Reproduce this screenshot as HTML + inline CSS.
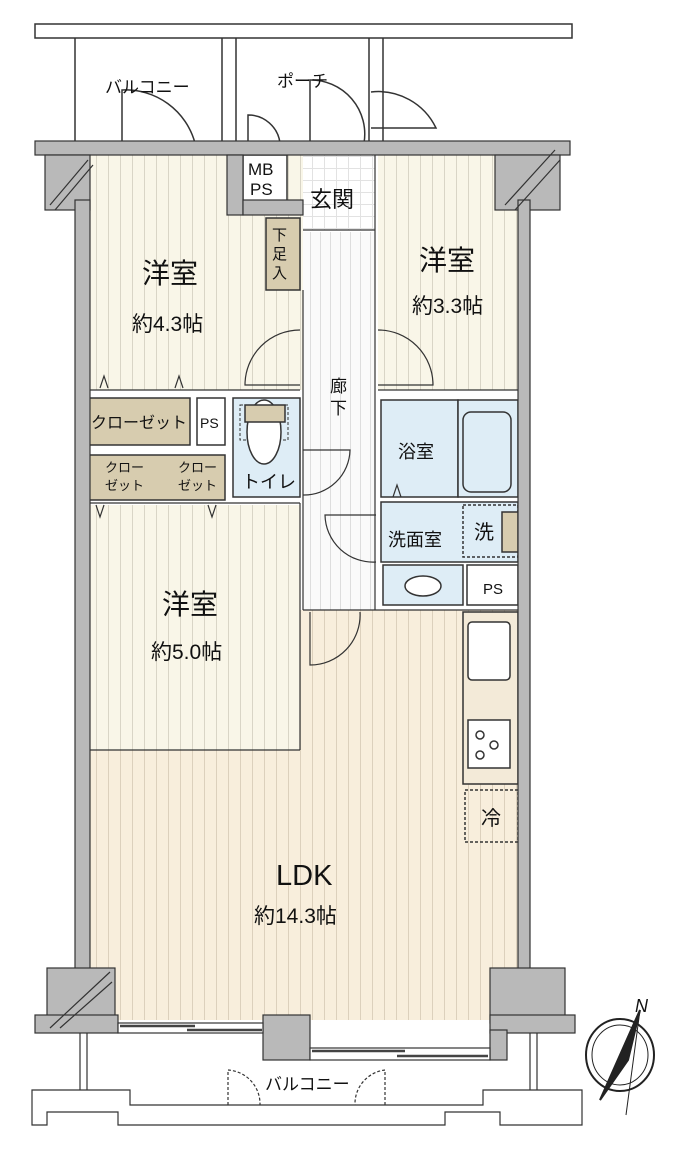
<!DOCTYPE html>
<html><head><meta charset="utf-8"><style>
html,body{margin:0;padding:0;background:#fff;}
svg{display:block;}
text{font-family:"Liberation Sans","Noto Sans CJK JP",sans-serif;fill:#111;}
</style></head><body>
<svg width="683" height="1163" viewBox="0 0 683 1163" xmlns="http://www.w3.org/2000/svg">
<defs>
<pattern id="st" width="12" height="10" patternUnits="userSpaceOnUse"><rect width="12" height="10" fill="#f9f6e8"/><line x1="0.5" y1="0" x2="0.5" y2="10" stroke="#d9d5c6" stroke-width="1"/></pattern>
<pattern id="st2" width="12" height="10" patternUnits="userSpaceOnUse"><rect width="12" height="10" fill="#f8eedc"/><line x1="0.5" y1="0" x2="0.5" y2="10" stroke="#dcd0bc" stroke-width="1"/></pattern>
<pattern id="hall" width="10" height="10" patternUnits="userSpaceOnUse"><rect width="10" height="10" fill="#fafafa"/><line x1="0.5" y1="0" x2="0.5" y2="10" stroke="#ddd" stroke-width="1"/></pattern>
<pattern id="tile" width="12" height="12" patternUnits="userSpaceOnUse"><rect width="12" height="12" fill="#fff"/><path d="M0 .5H12M.5 0V12" stroke="#e2e2e2"/></pattern>
</defs>
<g stroke="#333" stroke-width="1.5" fill="none">
<rect x="35" y="24" width="537" height="14" fill="#fff"/>
<line x1="75" y1="38" x2="75" y2="141"/><line x1="222" y1="38" x2="222" y2="141"/><line x1="236" y1="38" x2="236" y2="141"/><line x1="369" y1="38" x2="369" y2="141"/><line x1="383" y1="38" x2="383" y2="141"/>
<path d="M122 143V90A72 72 0 0 1 195 143"/><path d="M248 143V115A32 32 0 0 1 280 143"/>
<path d="M310 143V80A54 54 0 0 1 364 143"/><path d="M371 92A64 64 0 0 1 436 128H371"/>
</g>
<rect x="90" y="155" width="520" height="865" fill="#fff"/>
<rect x="90" y="155" width="213" height="235" fill="url(#st)"/>
<rect x="378" y="155" width="140" height="235" fill="url(#st)"/>
<rect x="303" y="155" width="72" height="75" fill="url(#tile)"/>
<rect x="303" y="232" width="72" height="378" fill="url(#hall)"/>
<rect x="90" y="610" width="428" height="410" fill="url(#st2)"/>
<rect x="90" y="505" width="210" height="245" fill="url(#st)"/>
<g stroke="#333" stroke-width="1.5">
<rect x="266" y="218" width="34" height="72" fill="#d7ccaf"/>
<rect x="243" y="155" width="44" height="46" fill="#fff"/>
<rect x="88" y="398" width="102" height="47" fill="#d7ccaf"/>
<rect x="197" y="398" width="28" height="47" fill="#fff"/>
<rect x="233" y="398" width="67" height="99" fill="#deedf6"/>
<rect x="88" y="455" width="137" height="45" fill="#d7ccaf"/>
<rect x="381" y="400" width="77" height="97" fill="#deedf6"/>
<rect x="458" y="400" width="60" height="97" fill="#deedf6"/>
<rect x="381" y="502" width="137" height="60" fill="#deedf6"/>
<rect x="383" y="565" width="80" height="40" fill="#deedf6"/>
<rect x="467" y="565" width="51" height="40" fill="#fff"/>
<rect x="463" y="612" width="55" height="172" fill="#f3ead8"/>
<rect x="468" y="622" width="42" height="58" rx="4" fill="#fff"/>
<rect x="468" y="720" width="42" height="48" fill="#fff"/>
<rect x="463" y="505" width="55" height="52" fill="none" stroke-dasharray="3 2"/>
<rect x="502" y="512" width="16" height="40" fill="#d7ccaf"/>
<rect x="465" y="790" width="53" height="52" fill="none" stroke-dasharray="3 2"/>
<rect x="463" y="412" width="48" height="80" rx="8" fill="#deedf6"/>
<ellipse cx="423" cy="586" rx="18" ry="10" fill="#fff"/>
<rect x="240" y="405" width="48" height="35" fill="none" stroke-dasharray="3 2" stroke-width="1"/>
<ellipse cx="264" cy="432" rx="17" ry="32" fill="#fff"/>
<rect x="245" y="405" width="40" height="17" fill="#d7ccaf"/>
<circle cx="480" cy="735" r="4" fill="#fff"/><circle cx="480" cy="755" r="4" fill="#fff"/><circle cx="494" cy="745" r="4" fill="#fff"/>
</g>
<g stroke="#333" stroke-width="1.2" fill="none">
<line x1="303" y1="230" x2="375" y2="230"/>
<line x1="303" y1="290" x2="303" y2="610"/><line x1="375" y1="155" x2="375" y2="610"/>
<line x1="90" y1="390" x2="300" y2="390"/><line x1="378" y1="390" x2="518" y2="390"/>
<line x1="90" y1="503" x2="300" y2="503"/><line x1="300" y1="503" x2="300" y2="750"/>
<line x1="90" y1="750" x2="300" y2="750"/>
<line x1="303" y1="610" x2="518" y2="610"/>
<path d="M300 330A55 55 0 0 0 245 385H300"/>
<path d="M378 330A55 55 0 0 1 433 385H378"/>
<path d="M303 450H350A46 46 0 0 1 303 495"/>
<path d="M376 515H325A48 48 0 0 0 376 562"/>
<path d="M310 612V665A50 50 0 0 0 360 612"/>
<path d="M100 388l4-12 4 12M175 388l4-12 4 12M96 505l4 12 4-12M208 505l4 12 4-12M393 497l4-12 4 12"/>
</g>
<g fill="#b9b9b9" stroke="#333" stroke-width="1.2">
<rect x="35" y="141" width="535" height="14"/>
<rect x="45" y="155" width="45" height="55"/><rect x="75" y="200" width="15" height="800"/>
<rect x="495" y="155" width="65" height="55"/><rect x="518" y="200" width="12" height="800"/>
<rect x="227" y="155" width="16" height="60"/><rect x="243" y="200" width="60" height="15"/>
<rect x="47" y="968" width="68" height="55"/><rect x="35" y="1015" width="83" height="18"/>
<rect x="490" y="968" width="75" height="55"/><rect x="490" y="1015" width="85" height="18"/>
<rect x="263" y="1015" width="47" height="45"/><rect x="490" y="1030" width="17" height="30"/>
</g>
<g stroke="#333" stroke-width="1.2" fill="none">
<rect x="118" y="1023" width="145" height="10" fill="#fff"/>
<rect x="310" y="1048" width="180" height="12" fill="#fff"/>
<path d="M120 1026H195M187 1030H262M312 1051H405M397 1056H488" stroke="#444" stroke-width="2.5"/>
<path d="M50 205L88 160M55 210L93 165M505 205L555 150M515 210L560 160M50 1028L110 972M60 1028L112 982"/>
<path d="M80 1033V1090M87 1033V1090M530 1033V1090M537 1033V1090"/>
<path d="M32 1090H130V1105H483V1090H582V1125H500V1112H445V1125H118V1112H47V1125H32Z"/>
<path d="M228 1105V1070A34 34 0 0 1 260 1105M385 1105V1070A34 34 0 0 0 355 1105" stroke-dasharray="3 2"/>
</g>
<g stroke="#222" stroke-width="2" fill="none">
<ellipse cx="620" cy="1055" rx="34" ry="36"/><ellipse cx="620" cy="1055" rx="28" ry="30" stroke-width="1"/>
<path d="M640 1010L600 1100L628 1060Z" fill="#222"/><path d="M640 1010L626 1115" stroke-width="1"/>
</g>
<text x="635" y="1012" font-size="18" font-style="italic" font-family="Liberation Serif,serif">N</text>
<g font-size="17">
<text x="105" y="93">バルコニー</text><text x="277" y="87">ポーチ</text>
<text x="265" y="1090">バルコニー</text>
</g>
<text x="248" y="175" font-size="17">MB</text><text x="250" y="195" font-size="17">PS</text>
<text x="310" y="207" font-size="22">玄関</text>
<text x="272" y="240" font-size="15">下</text><text x="272" y="259" font-size="15">足</text><text x="272" y="278" font-size="15">入</text>
<g font-size="28"><text x="142" y="283">洋室</text><text x="419" y="270">洋室</text><text x="162" y="614">洋室</text></g>
<g font-size="21"><text x="132" y="331">約4.3帖</text><text x="412" y="313">約3.3帖</text><text x="151" y="659">約5.0帖</text><text x="254" y="923">約14.3帖</text></g>
<text x="276" y="885" font-size="29">LDK</text>
<text x="330" y="392" font-size="17">廊</text><text x="330" y="414" font-size="17">下</text>
<text x="91" y="428" font-size="16">クローゼット</text><text x="200" y="428" font-size="14">PS</text>
<text x="105" y="472" font-size="13">クロー</text><text x="105" y="490" font-size="13">ゼット</text>
<text x="178" y="472" font-size="13">クロー</text><text x="178" y="490" font-size="13">ゼット</text>
<text x="242" y="488" font-size="18">トイレ</text>
<text x="398" y="458" font-size="18">浴室</text>
<text x="388" y="546" font-size="18">洗面室</text><text x="474" y="539" font-size="20">洗</text>
<text x="483" y="594" font-size="15">PS</text>
<text x="481" y="825" font-size="20">冷</text>
</svg>
</body></html>
